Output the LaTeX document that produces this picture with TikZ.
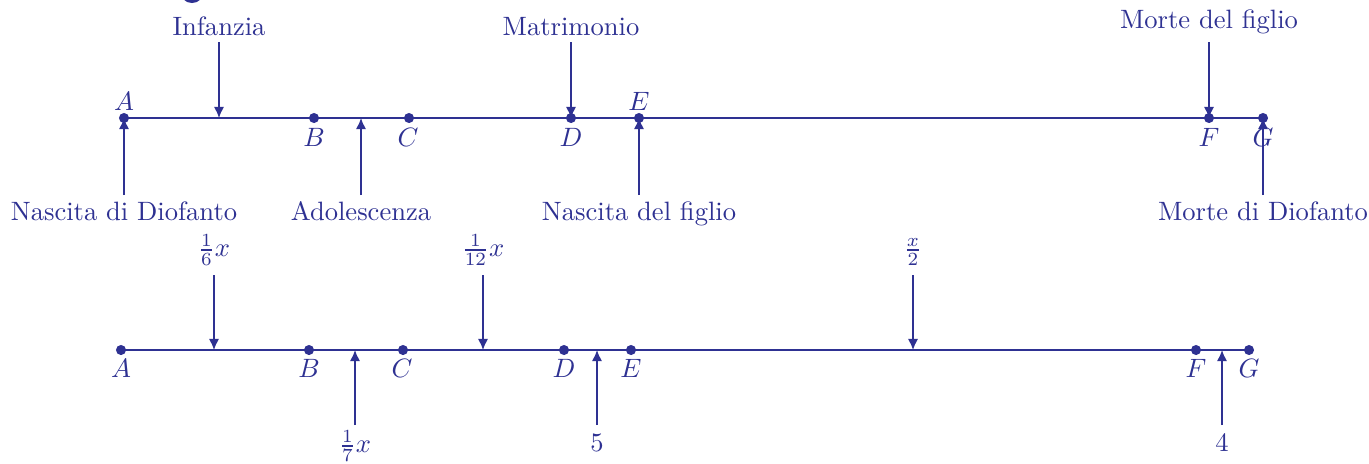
\documentclass[tikz,border=0pt]{standalone}
\usetikzlibrary{arrows.meta}
\definecolor{dblue}{RGB}{46,49,146}
\begin{document}
\begin{tikzpicture}[x=0.3766pt,y=-0.3766pt,
  every node/.style={text=dblue},
  axis/.style={draw=dblue,line width=0.6pt},
  pt/.style={circle,fill=dblue,inner sep=0pt,minimum size=3.8pt},
  arr/.style={draw=dblue,line width=0.6pt,-{Latex[length=4.2pt,width=3.9pt]}},
  lbl/.style={inner sep=0pt},
  blbl/.style={inner sep=0pt,anchor=base}]
\useasboundingbox (0,0) rectangle (1369,463);
\fill[dblue] (192,-9) ellipse (12 and 12);
% ---------- top line ----------
\node[pt] (tA) at (124,118) {};
\node[pt] (tB) at (314,118) {};
\node[pt] (tC) at (409,118) {};
\node[pt] (tD) at (571,118) {};
\node[pt] (tE) at (639,118) {};
\node[pt] (tF) at (1209,118) {};
\node[pt] (tG) at (1263,118) {};
\draw[axis] (tA.center) -- (tG.center);
\node[lbl] at (124,101) {$A$};
\node[lbl] at (314,137) {$B$};
\node[lbl] at (408,137) {$C$};
\node[lbl] at (571,137) {$D$};
\node[lbl] at (639,101) {$E$};
\node[lbl] at (1209,137) {$F$};
\node[lbl] at (1263,137) {$G$};
\coordinate (tinf) at (219,118);
\coordinate (tado) at (361,118);
\node[blbl] (infanzia) at (219,35) {Infanzia};
\node[blbl] (matr) at (571,35) {Matrimonio};
\node[blbl] (mfig) at (1209,28) {Morte del figlio};
\node[blbl] (ndio) at (124,220) {Nascita di Diofanto};
\node[blbl] (adol) at (361,220) {Adolescenza};
\node[blbl] (nfig) at (639,220) {Nascita del figlio};
\node[blbl] (mdio) at (1263,220) {Morte di Diofanto};
\draw[arr] (219,42) -- (tinf);
\draw[arr] (571,42) -- (tD.center);
\draw[arr] (1209,42) -- (tF.center);
\draw[arr] (124,195) -- (tA.center);
\draw[arr] (361,195) -- (tado);
\draw[arr] (639,195) -- (tE.center);
\draw[arr] (1263,195) -- (tG.center);
% ---------- bottom line ----------
\node[pt] (bA) at (121,350) {};
\node[pt] (bB) at (309,350) {};
\node[pt] (bC) at (403,350) {};
\node[pt] (bD) at (564,350) {};
\node[pt] (bE) at (631,350) {};
\node[pt] (bF) at (1196,350) {};
\node[pt] (bG) at (1249,350) {};
\draw[axis] (bA.center) -- (bG.center);
\node[lbl] at (121,368) {$A$};
\node[lbl] at (309,368) {$B$};
\node[lbl] at (402,368) {$C$};
\node[lbl] at (564,368) {$D$};
\node[lbl] at (631,368) {$E$};
\node[lbl] at (1196,368) {$F$};
\node[lbl] at (1249,368) {$G$};
\coordinate (b16) at (214,350);
\coordinate (b112) at (483,350);
\coordinate (bx2) at (913,350);
\coordinate (b17) at (355,350);
\coordinate (b5) at (597,350);
\coordinate (b4) at (1222,350);
\node[lbl] (l16) at (214,250) {$\frac{1}{6}x$};
\node[lbl] (l112) at (483,250) {$\frac{1}{12}x$};
\node[lbl] (lx2) at (913,252) {$\frac{x}{2}$};
\node[lbl] (l17) at (355,446) {$\frac{1}{7}x$};
\node[lbl] (l5) at (597,443) {$5$};
\node[lbl] (l4) at (1222,443) {$4$};
\draw[arr] (214,275) -- (b16);
\draw[arr] (483,275) -- (b112);
\draw[arr] (913,275) -- (bx2);
\draw[arr] (355,425) -- (b17);
\draw[arr] (597,425) -- (b5);
\draw[arr] (1222,425) -- (b4);
\end{tikzpicture}
\end{document}
